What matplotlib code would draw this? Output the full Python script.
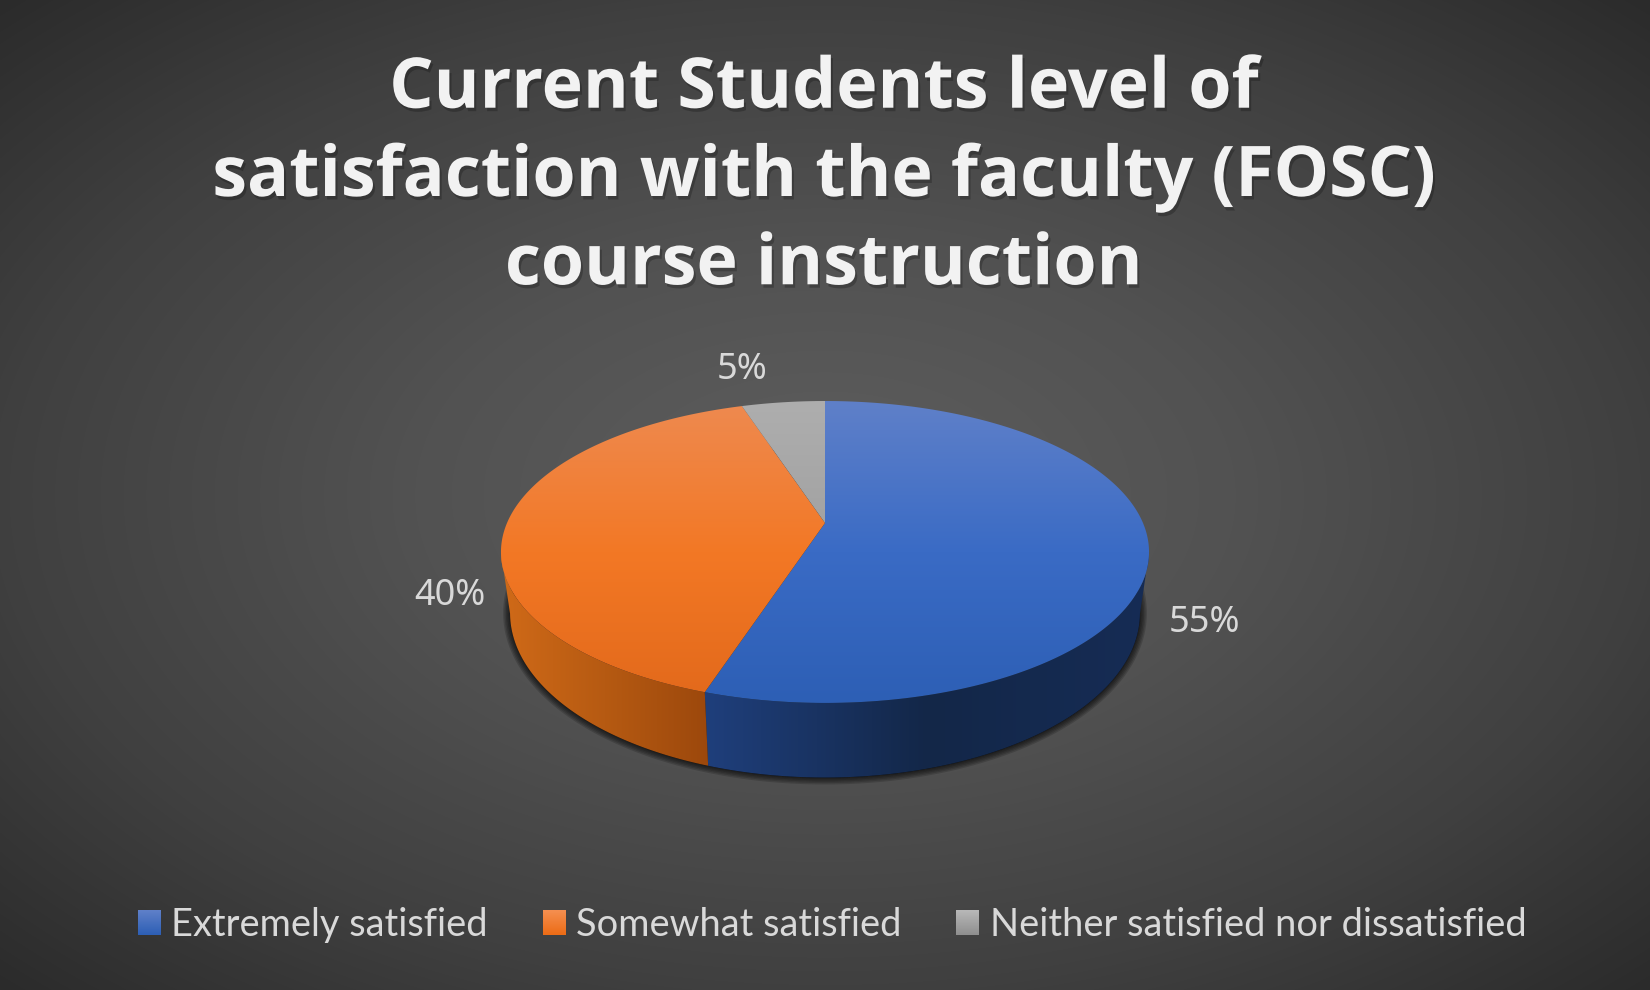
import numpy as np
import matplotlib
matplotlib.use('Agg')
import matplotlib.pyplot as plt
import matplotlib.patheffects as pe
from matplotlib.colors import LinearSegmentedColormap
from matplotlib.patches import Polygon, Rectangle

# chart values
categories = ['Extremely satisfied', 'Somewhat satisfied', 'Neither satisfied nor dissatisfied']
values = [55, 40, 5]
percent_labels = ['55%', '40%', '5%']
title = 'Current Students level of\nsatisfaction with the faculty (FOSC)\ncourse instruction'

top_colors = [['#5f80c9', '#3a6bc5', '#2d5fb5'],
              ['#ee8a50', '#f37825', '#e2691b'],
              ['#aeaeae', '#a0a0a0', '#8f8f8f']]
side_colors = [['#1f3f7c', '#132748', '#162c55'],
               ['#d06a18', '#b65a12', '#9c480c']]
legend_colors = [['#5f80c9', '#2d5fb5'], ['#f58f50', '#ec6c16'], ['#b8b8b8', '#8f8f8f']]
label_pos = [(1204, 623), (450, 596), (742, 370)]

# projected disc, everything in pixels
CX, CY = 825, 523
A, B, K = 318, 145.4, 0.192
MID_Y = 552


def project(theta):
    # theta clockwise from 12 o'clock, perspective tilt of the disc
    x = np.sin(theta)
    y = np.cos(theta)
    w = 1 + K * y
    return CX + A * x / w, CY - B * y / w


def lower(px, py):
    # same rim on the underside of the disc
    return CX + (px - CX) * 0.972, 613 + (py - MID_Y) * 1.09


def gradient_fill(ax, poly, colors, extent, vertical=True, zorder=3):
    cmap = LinearSegmentedColormap.from_list('g', colors)
    g = np.linspace(0, 1, 256)
    g = g[:, None] if vertical else g[None, :]
    im = ax.imshow(g, cmap=cmap, extent=extent, aspect='auto', zorder=zorder,
                   interpolation='bilinear', origin='upper')
    patch = Polygon(poly, closed=True, transform=ax.transData, facecolor='none', edgecolor='none')
    ax.add_patch(patch)
    im.set_clip_path(patch)


fig = plt.figure(figsize=(16.5, 9.9), dpi=100)
ax = fig.add_axes([0, 0, 1, 1])

# background
yy, xx = np.mgrid[0:990, 0:1650]
r = np.sqrt(((xx - 825) / 825) ** 2 + ((yy - 495) / 495) ** 2) / np.sqrt(2)
bg = LinearSegmentedColormap.from_list('bg', [(0, '#5e5e5e'), (0.35, '#525252'),
                                              (0.7, '#404040'), (1, '#2b2b2b')])
ax.imshow(r, cmap=bg, vmin=0, vmax=1, extent=(0, 1650, 990, 0), aspect='auto', zorder=0)

edges = np.cumsum([0] + values) / sum(values) * 2 * np.pi

# shadow under the disc
t = np.linspace(0, 2 * np.pi, 400)
sx, sy = lower(*project(t))
for lw in [2, 4, 6, 8, 10]:
    ax.add_patch(Polygon(np.c_[sx, sy], closed=True, facecolor='black', edgecolor='black',
                         alpha=0.16, linewidth=lw, joinstyle='round', zorder=1))

# side walls
for i in range(2):
    t = np.linspace(edges[i], edges[i + 1], 300)
    px, py = project(t)
    keep = py >= MID_Y
    px, py = px[keep], py[keep]
    bx, by = lower(px, py)
    poly = np.r_[np.c_[px, py], np.c_[bx, by][::-1]]
    x0, x1 = poly[:, 0].min(), poly[:, 0].max()
    gradient_fill(ax, poly, side_colors[i], (x0, x1, 800, 500), vertical=False, zorder=2)

# top face
for i in range(3):
    t = np.linspace(edges[i], edges[i + 1], 300)
    px, py = project(t)
    poly = np.r_[[[CX, CY]], np.c_[px, py]]
    gradient_fill(ax, poly, top_colors[i], (400, 1250, 703, 401), zorder=3)

for lab, (lx, ly) in zip(percent_labels, label_pos):
    ax.text(lx, ly, lab, color='#d9d9d9', fontsize=26, family='Noto Sans',
            ha='center', va='center', zorder=6)

ax.text(824, 178, title, color='#f2f2f2', fontsize=50.3, family='Open Sans', fontweight='bold',
        ha='center', va='center', linespacing=1.345, zorder=6,
        path_effects=[pe.withSimplePatchShadow(offset=(1.5, -2.5), shadow_rgbFace='black', alpha=0.22)])

handles = [Rectangle((0, 0), 1, 1, facecolor=c[1], edgecolor='none') for c in legend_colors]
leg = ax.legend(handles, categories, loc='center', bbox_to_anchor=(832 / 1650, 1 - 925 / 990),
                ncol=3, frameon=False, handlelength=0.6, handleheight=0.6, handletextpad=0.28,
                columnspacing=1.44, prop={'family': 'Lato', 'size': 27.4}, labelcolor='#d9d9d9')

ax.set_xlim(0, 1650)
ax.set_ylim(990, 0)
ax.axis('off')

# gradient on the legend swatches
fig.canvas.draw()
for h, cols in zip(leg.get_patches(), legend_colors):
    bb = h.get_window_extent()
    cmap = LinearSegmentedColormap.from_list('s', cols)
    ax.imshow(np.linspace(0, 1, 32)[:, None], cmap=cmap, aspect='auto', zorder=7,
              extent=(bb.x0, bb.x1, 990 - bb.y0, 990 - bb.y1), origin='upper')
ax.set_xlim(0, 1650)
ax.set_ylim(990, 0)

fig.savefig('out.png', dpi=100)
